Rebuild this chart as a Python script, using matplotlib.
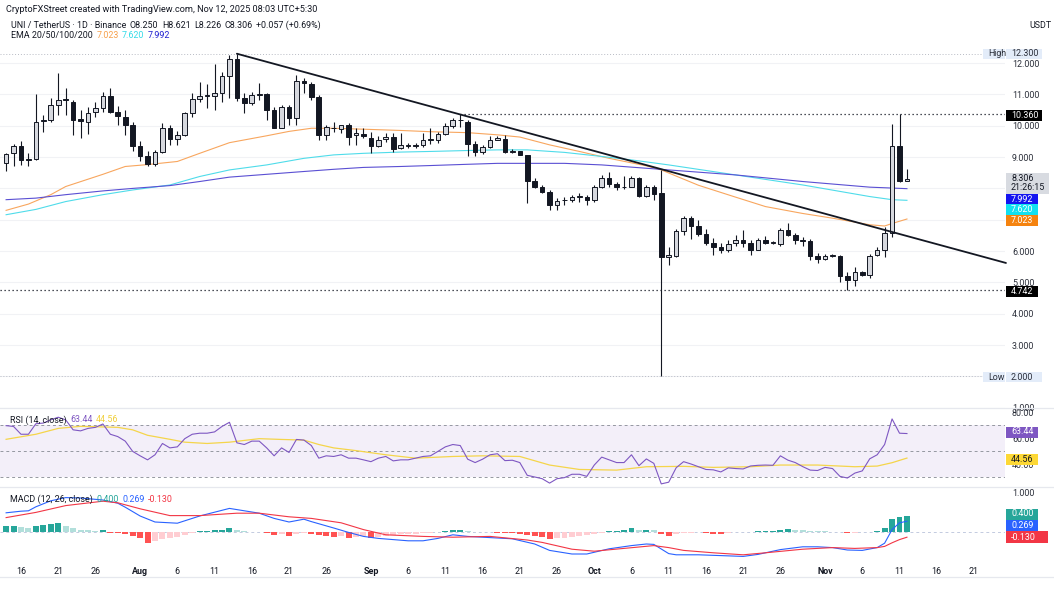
import matplotlib
matplotlib.use('agg')

import matplotlib.pyplot as plt
from matplotlib.patches import Rectangle
from matplotlib.lines import Line2D
import numpy as np
import pandas as pd

plt.rcParams['font.family'] = ['Roboto', 'DejaVu Sans']

# ---- data (daily candles from Jul 14 to Nov 12, 2025) ----
start_date = '2025-07-14'

opens = [8.80, 9.12, 9.34, 8.94, 8.93, 10.14, 10.17, 10.67, 10.84, 10.77,
         10.20, 10.11, 10.43, 10.56, 10.96, 10.45, 10.29, 10.01, 9.34, 9.04,
         8.77, 9.16, 9.94, 9.58, 9.69, 10.42, 10.86, 10.95, 10.94, 11.03,
         11.59, 12.12, 10.88, 10.72, 10.99, 11.01, 10.49, 9.94, 10.59, 10.24,
         11.43, 11.34, 10.91, 9.71, 9.93, 9.89, 10.01, 9.70, 9.74, 9.60,
         9.34, 9.57, 9.65, 9.28, 9.36, 9.37, 9.39, 9.55, 9.53, 9.73,
         10.00, 10.19, 10.11, 9.41, 9.16, 9.32, 9.55, 9.58, 9.17, 9.18,
         9.06, 8.25, 8.06, 7.90, 7.48, 7.63, 7.63, 7.74, 7.74, 7.63,
         8.06, 8.33, 8.14, 8.05, 8.06, 8.33, 7.76, 8.06, 7.85, 5.80,
         5.85, 6.63, 7.05, 6.81, 6.55, 6.27, 6.13, 6.04, 6.25, 6.34,
         6.25, 6.04, 6.34, 6.27, 6.23, 6.66, 6.52, 6.34, 6.31, 5.85,
         5.75, 5.85, 5.85, 5.21, 5.08, 5.32, 5.25, 5.86, 6.04, 6.57,
         9.36, 8.250]
highs = [9.13, 9.42, 9.50, 9.12, 11.01, 10.35, 10.88, 11.68, 11.22, 10.83,
         10.51, 10.61, 10.77, 11.09, 11.20, 10.64, 10.51, 10.13, 9.50, 9.18,
         9.23, 10.08, 10.03, 9.82, 10.45, 11.04, 11.39, 11.33, 11.96, 11.73,
         12.25, 12.30, 11.04, 11.09, 11.38, 11.04, 10.61, 10.67, 10.67, 11.62,
         11.52, 11.39, 10.99, 10.03, 10.11, 10.03, 10.10, 9.92, 9.92, 9.81,
         9.67, 9.76, 9.76, 9.76, 9.44, 9.44, 9.76, 9.92, 9.81, 10.08,
         10.24, 10.36, 10.17, 9.50, 9.39, 9.66, 9.67, 9.70, 9.25, 9.20,
         9.08, 8.33, 8.11, 7.95, 7.69, 7.74, 7.80, 7.85, 7.80, 8.11,
         8.43, 8.51, 8.22, 8.40, 8.40, 8.38, 8.11, 8.11, 8.59, 6.13,
         6.70, 7.12, 7.12, 6.98, 6.70, 6.41, 6.25, 6.36, 6.52, 6.66,
         6.34, 6.41, 6.49, 6.33, 6.73, 6.89, 6.57, 6.44, 6.38, 5.93,
         5.91, 5.91, 5.88, 5.32, 5.49, 5.35, 5.91, 6.13, 6.76, 10.05,
         10.36, 8.621]
lows = [8.54, 8.70, 8.75, 8.70, 8.91, 9.79, 10.11, 10.33, 10.33, 9.71,
        9.62, 9.73, 10.29, 10.45, 10.40, 10.03, 9.71, 9.18, 8.86, 8.73,
        8.73, 9.12, 9.39, 9.39, 9.66, 10.29, 10.75, 10.56, 10.51, 10.77,
        10.88, 10.80, 10.42, 10.67, 10.83, 10.19, 9.92, 9.92, 10.03, 10.03,
        11.04, 10.83, 9.55, 9.55, 9.79, 9.76, 9.39, 9.39, 9.60, 9.12,
        9.31, 9.49, 9.17, 9.25, 9.28, 9.28, 9.33, 9.42, 9.44, 9.70,
        9.92, 9.97, 9.02, 9.02, 9.10, 9.28, 9.53, 9.12, 9.12, 9.06,
        7.53, 8.01, 7.85, 7.31, 7.31, 7.48, 7.57, 7.57, 7.48, 7.57,
        8.01, 8.06, 7.96, 7.98, 8.04, 7.72, 7.72, 7.63, 2.00, 5.56,
        5.81, 6.52, 6.38, 6.49, 6.20, 5.88, 5.93, 5.96, 6.17, 6.13,
        5.88, 6.02, 6.23, 6.24, 6.17, 6.47, 6.23, 6.15, 5.70, 5.61,
        5.72, 5.81, 5.00, 4.75, 4.89, 5.19, 5.14, 5.83, 5.81, 6.45,
        8.20, 8.226]
closes = [9.10, 9.34, 8.91, 8.90, 10.13, 10.17, 10.65, 10.83, 10.82, 10.19,
          10.14, 10.40, 10.56, 10.96, 10.45, 10.32, 10.01, 9.34, 9.04, 8.77,
          9.16, 9.94, 9.58, 9.69, 10.42, 10.85, 10.96, 10.97, 11.03, 11.59,
          12.12, 10.88, 10.72, 10.99, 11.01, 10.51, 9.94, 10.59, 10.24, 11.43,
          11.36, 10.91, 9.71, 9.95, 9.92, 10.01, 9.63, 9.76, 9.66, 9.36,
          9.55, 9.65, 9.26, 9.39, 9.37, 9.36, 9.53, 9.57, 9.73, 10.00,
          10.19, 10.17, 9.41, 9.16, 9.32, 9.55, 9.60, 9.16, 9.18, 9.08,
          8.25, 8.06, 7.90, 7.48, 7.61, 7.64, 7.74, 7.75, 7.63, 8.06,
          8.34, 8.14, 8.04, 8.04, 8.33, 7.76, 8.06, 7.82, 5.81, 5.86,
          6.63, 7.05, 6.81, 6.55, 6.27, 6.13, 6.04, 6.23, 6.36, 6.27,
          6.04, 6.34, 6.27, 6.28, 6.68, 6.52, 6.34, 6.31, 5.85, 5.75,
          5.85, 5.86, 5.21, 5.08, 5.32, 5.25, 5.85, 6.02, 6.57, 9.36,
          8.25, 8.306]

# EMA lines, sampled along the curves (day index, price)
ema50_x = [0, 3, 6, 8, 13, 16, 19, 23, 26, 30, 35, 38, 41, 44, 48, 53, 57,
           62, 66, 69, 73, 77, 81, 86, 88, 93, 98, 102, 107, 111, 116, 118, 119, 121]
ema50 = [7.30, 7.50, 7.80, 8.06, 8.45, 8.70, 8.76, 8.86, 9.12, 9.46, 9.68, 9.82,
         9.92, 9.92, 9.89, 9.85, 9.81, 9.78, 9.71, 9.64, 9.39, 9.18, 8.96, 8.72,
         8.59, 8.10, 7.72, 7.42, 7.20, 7.05, 6.84, 6.80, 6.88, 7.023]
ema100_x = [0, 4, 8, 13, 17, 22, 26, 30, 35, 40, 44, 48, 53, 57, 62, 66, 70,
            75, 80, 84, 89, 98, 107, 116, 119, 121]
ema100 = [7.16, 7.33, 7.58, 7.80, 7.95, 8.11, 8.38, 8.59, 8.75, 8.96, 9.07, 9.12,
          9.16, 9.18, 9.21, 9.23, 9.23, 9.15, 9.02, 8.91, 8.75, 8.43, 8.11, 7.74,
          7.64, 7.62]
ema200_x = [0, 4, 8, 13, 17, 22, 26, 30, 35, 40, 44, 48, 53, 57, 62, 66, 75,
            80, 89, 98, 107, 116, 121]
ema200 = [7.64, 7.69, 7.80, 7.92, 8.00, 8.09, 8.22, 8.36, 8.45, 8.54, 8.61, 8.67,
          8.70, 8.73, 8.77, 8.80, 8.80, 8.75, 8.59, 8.43, 8.22, 8.04, 7.992]

# drawn trendline (day index, price) and horizontal levels
trend_x = [31, 134.3]
trend_y = [12.30, 5.62]
level_high = 12.300
level_low = 2.000
level_res = 10.360
level_res_from = 61
level_sup = 4.742

# RSI(14) and its moving average
rsi = [69.5, 68.9, 62.9, 62.9, 71.0, 71.5, 74.0, 76.0, 74.0, 66.3,
       65.5, 67.4, 68.2, 70.8, 62.9, 61.1, 57.6, 49.7, 46.3, 43.2,
       47.1, 55.8, 52.4, 53.2, 59.5, 62.9, 63.7, 63.7, 64.7, 68.9,
       72.1, 56.3, 55.0, 57.6, 57.6, 52.4, 46.3, 52.4, 48.9, 58.9,
       58.4, 54.2, 44.5, 46.3, 45.8, 47.1, 44.5, 44.5, 43.2, 41.8,
       44.5, 45.8, 42.4, 43.2, 43.2, 44.5, 45.8, 46.3, 49.7, 53.2,
       55.0, 54.2, 43.7, 41.1, 43.7, 47.1, 47.9, 42.6, 42.9, 41.1,
       31.3, 30.0, 28.7, 25.3, 28.7, 29.5, 32.1, 32.1, 30.5, 39.2,
       45.3, 43.2, 41.1, 41.1, 47.1, 38.7, 43.9, 40.5, 24.7, 26.0,
       37.1, 41.8, 40.0, 37.9, 35.8, 35.5, 33.9, 37.0, 36.5, 36.2,
       38.5, 39.0, 39.2, 39.0, 46.3, 43.0, 41.1, 38.0, 35.3, 35.0,
       37.4, 36.5, 30.5, 29.2, 33.0, 34.7, 44.0, 47.1, 55.0, 74.7,
       63.7, 63.44]
rsi_ma_x = [0, 4, 7, 10, 15, 17, 19, 22, 24, 27, 30, 34, 37, 40, 42, 44, 47, 51,
            55, 60, 64, 69, 73, 77, 82, 86, 91, 95, 100, 104, 109, 114, 117, 119, 121]
rsi_ma = [59.0, 62.9, 67.4, 69.0, 68.2, 66.3, 62.1, 59.0, 56.8, 55.8, 56.8, 59.5,
          58.9, 58.4, 55.0, 52.4, 50.3, 47.1, 44.5, 45.8, 46.3, 45.8, 39.2, 35.8,
          35.3, 37.9, 38.2, 37.4, 37.9, 39.2, 39.2, 37.9, 38.4, 41.0, 44.56]

# MACD(12, 26): histogram per day, lines sampled along the curves
macd_hist = [0.15, 0.16, 0.12, 0.10, 0.14, 0.17, 0.19, 0.22, 0.15, 0.10,
             0.06, 0.04, 0.03, 0.04, -0.02, -0.03, -0.06, -0.10, -0.15, -0.27,
             -0.22, -0.18, -0.15, -0.12, -0.07, -0.03, 0.03, 0.035, 0.04, 0.06,
             0.10, 0.05, 0.02, 0.01, 0.005, -0.03, -0.08, -0.05, -0.10, -0.06,
             -0.03, -0.04, -0.08, -0.10, -0.13, -0.10, -0.15, -0.12, -0.09, -0.16,
             -0.12, -0.10, -0.08, -0.06, -0.05, -0.04, -0.03, -0.02, -0.01, 0.02,
             0.04, 0.05, 0.02, 0.01, 0.003, -0.01, -0.02, -0.03, -0.035, -0.04,
             -0.08, -0.10, -0.13, -0.18, -0.16, -0.14, -0.12, -0.10, -0.08, -0.05,
             -0.02, 0.03, 0.032, 0.04, 0.10, 0.05, 0.06, 0.04, -0.06, -0.10,
             -0.06, -0.03, -0.02, -0.01, -0.03, -0.04, -0.045, -0.02, -0.01, 0.005,
             0.01, 0.02, 0.025, 0.03, 0.06, 0.07, 0.06, 0.05, 0.03, 0.02,
             0.015, 0.01, 0.005, -0.03, -0.02, -0.01, -0.005, 0.02, 0.10, 0.32,
             0.37, 0.40]
macd_x = [0, 2, 3, 4, 6, 8, 10, 13, 15, 16, 18, 20, 23, 26, 30, 32, 34, 36, 38,
          40, 41, 44, 46, 48, 50, 54, 56, 58, 60, 62, 65, 68, 71, 73, 76, 78, 81,
          84, 86, 87, 89, 90, 93, 96, 99, 101, 104, 107, 109, 111, 113, 115, 117,
          118, 119, 120, 121]
macd = [0.48, 0.52, 0.53, 0.63, 0.78, 0.86, 0.85, 0.80, 0.72, 0.62, 0.40, 0.25,
        0.22, 0.40, 0.59, 0.53, 0.47, 0.34, 0.25, 0.32, 0.26, 0.10, -0.01, -0.11,
        -0.16, -0.22, -0.22, -0.16, -0.07, -0.11, -0.14, -0.17, -0.30, -0.46,
        -0.55, -0.55, -0.42, -0.34, -0.30, -0.31, -0.54, -0.57, -0.57, -0.59,
        -0.61, -0.56, -0.44, -0.37, -0.37, -0.39, -0.45, -0.46, -0.39, -0.28,
        0.06, 0.23, 0.269]
signal_x = [0, 4, 8, 13, 15, 18, 22, 26, 31, 34, 38, 41, 45, 48, 51, 56, 60, 65,
            70, 72, 76, 79, 83, 87, 89, 91, 95, 99, 102, 107, 111, 114, 117, 118,
            119, 120, 121]
signal = [0.36, 0.49, 0.66, 0.77, 0.73, 0.58, 0.41, 0.41, 0.47, 0.47, 0.38, 0.34,
          0.23, 0.06, -0.07, -0.11, -0.13, -0.11, -0.20, -0.26, -0.43, -0.48,
          -0.41, -0.34, -0.39, -0.46, -0.52, -0.57, -0.52, -0.43, -0.39, -0.41,
          -0.39, -0.36, -0.27, -0.19, -0.130]

tick_dates = ['2025-07-16', '2025-07-21', '2025-07-26', '2025-08-01', '2025-08-06',
              '2025-08-11', '2025-08-16', '2025-08-21', '2025-08-26', '2025-09-01',
              '2025-09-06', '2025-09-11', '2025-09-16', '2025-09-21', '2025-09-26',
              '2025-10-01', '2025-10-06', '2025-10-11', '2025-10-16', '2025-10-21',
              '2025-10-26', '2025-11-01', '2025-11-06', '2025-11-11', '2025-11-16',
              '2025-11-21']
tick_labels = ['16', '21', '26', 'Aug', '6', '11', '16', '21', '26', 'Sep', '6', '11',
               '16', '21', '26', 'Oct', '6', '11', '16', '21', '26', 'Nov', '6', '11',
               '16', '21']
price_ticks = [1, 2, 3, 4, 5, 6, 9, 10, 11, 12]   # 7 and 8 sit under the value tags

# ---- figure ----
W, H = 1054, 589
fig = plt.figure(figsize=(W / 100, H / 100), dpi=100)
fig.patch.set_facecolor('white')
TXT = '#131722'
AXT = '#2a2e39'
FS = 6.4
PLOT_R = 1005


def pane(top, bottom):
    return [0.0, 1 - bottom / H, PLOT_R / W, (bottom - top) / H]


ax = fig.add_axes(pane(18, 408))
ax_rsi = fig.add_axes(pane(408, 487), sharex=ax)
ax_macd = fig.add_axes(pane(487, 561), sharex=ax)

for a in (ax, ax_rsi, ax_macd):
    for s in a.spines.values():
        s.set_visible(False)
    a.yaxis.tick_right()
    a.tick_params(axis='y', length=0, pad=5, labelsize=FS, labelcolor=AXT)
    a.tick_params(axis='x', length=0)
    a.set_facecolor('none')

x = np.arange(len(closes))
o = np.array(opens)
h = np.array(highs)
l = np.array(lows)
c = np.array(closes)
up = c >= o

ax.set_xlim(-0.82, 134.17)
ax.set_ylim(0.99, 13.44)
ax.set_yticks(np.arange(1, 13))
ax.yaxis.set_major_formatter(matplotlib.ticker.FormatStrFormatter('%.3f'))
ax.yaxis.grid(True, color='#f1f2f5', lw=0.8)
ax.set_axisbelow(True)
for t, v in zip(ax.get_yticklabels(), np.arange(1, 13)):
    t.set_visible(v in price_ticks)
plt.setp(ax.get_xticklabels(), visible=False)
plt.setp(ax_rsi.get_xticklabels(), visible=False)

# horizontal levels
ax.axhline(level_high, color='#b8bbc4', lw=0.7, ls=(0, (1, 2)), zorder=1)
ax.axhline(level_low, color='#b8bbc4', lw=0.7, ls=(0, (1, 2)), zorder=1)
ax.hlines(level_res, level_res_from, 134.17, color=TXT, lw=0.9, ls=(0, (1, 2.2)), zorder=1)
ax.axhline(level_sup, color=TXT, lw=0.9, ls=(0, (1, 2.2)), zorder=1)

# EMAs
ax.plot(ema50_x, ema50, color='#f8a65e', lw=0.8, zorder=1.5)
ax.plot(ema100_x, ema100, color='#4fdcea', lw=0.8, zorder=1.5)
ax.plot(ema200_x, ema200, color='#5a4fd3', lw=0.8, zorder=1.5)

# candles
body_lo = np.minimum(o, c)
body_h = np.maximum(np.abs(c - o), 0.012)
ax.vlines(x, l, h, color=TXT, lw=0.8, zorder=2)
ax.bar(x[up], body_h[up], bottom=body_lo[up], width=0.62, color='#d6d8de',
       edgecolor=TXT, linewidth=0.7, zorder=3)
ax.bar(x[~up], body_h[~up], bottom=body_lo[~up], width=0.62, color=TXT,
       edgecolor=TXT, linewidth=0.7, zorder=3)

# trendline
ax.plot(trend_x, trend_y, color=TXT, lw=1.3, solid_capstyle='round', zorder=4, clip_on=False)

# ---- RSI pane ----
ax_rsi.set_ylim(22.3, 83.1)
ax_rsi.axhspan(30, 70, color='#7e57c2', alpha=0.09, lw=0)
for lv in (70, 50, 30):
    ax_rsi.axhline(lv, color='#9598a1', lw=0.7, ls=(0, (3, 3)))
ax_rsi.plot(rsi_ma_x, rsi_ma, color='#f5d54a', lw=0.9)
ax_rsi.plot(x, rsi, color='#7e57c2', lw=0.8)
ax_rsi.set_yticks([80, 60, 40])
ax_rsi.yaxis.set_major_formatter(matplotlib.ticker.FormatStrFormatter('%.2f'))

# ---- MACD pane ----
ax_macd.set_ylim(-0.725, 1.125)
hist = np.array(macd_hist)
cols = []
for i, v in enumerate(hist):
    prev = hist[i - 1] if i > 0 else v
    if v >= 0:
        cols.append('#26a69a' if v >= prev else '#b2dfdb')
    else:
        cols.append('#ff5252' if v < prev else '#ffcdd2')
ax_macd.axhline(0, color='#c3cbe0', lw=0.7, ls=(0, (3, 3)), zorder=0)
ax_macd.bar(x, hist, width=0.8, color=cols, zorder=1)
ax_macd.plot(macd_x, macd, color='#2962ff', lw=0.8, zorder=2)
ax_macd.plot(signal_x, signal, color='#f23645', lw=0.8, zorder=2)
ax_macd.set_yticks([1.0])
ax_macd.yaxis.set_major_formatter(matplotlib.ticker.FormatStrFormatter('%.3f'))

start = pd.Timestamp(start_date)
tick_pos = [(pd.Timestamp(d) - start).days for d in tick_dates]
ax_macd.set_xticks(tick_pos)
ax_macd.set_xticklabels(tick_labels)
ax_macd.tick_params(axis='x', pad=4, labelsize=FS, labelcolor=TXT)
for t in ax_macd.get_xticklabels():
    if t.get_text() in ('Aug', 'Sep', 'Oct', 'Nov'):
        t.set_fontweight('bold')

# pane separators
for yy in (408, 487, 577):
    fig.add_artist(Line2D([0, 1], [1 - yy / H] * 2, transform=fig.transFigure,
                          color='#e6e8ee', lw=0.9))

# ---- texts ----
renderer = fig.canvas.get_renderer()


def line_of(xp, yp, parts, fs=FS, gap=3.5):
    for txt, col in parts:
        t = fig.text(xp / W, 1 - yp / H, txt, color=col, fontsize=fs,
                     ha='left', va='center')
        bb = t.get_window_extent(renderer)
        xp = bb.x1 + gap


def tag(x0, yc, w, hh, txt, bg, fg, fs=FS):
    fig.add_artist(Rectangle((x0 / W, 1 - (yc + hh / 2) / H), w / W, hh / H,
                             transform=fig.transFigure, facecolor=bg,
                             edgecolor='none', zorder=5))
    fig.text((x0 + 5) / W, 1 - yc / H, txt, color=fg, fontsize=fs,
             ha='left', va='center', zorder=6, linespacing=1.05)


line_of(6, 10, [('CryptoFXStreet created with TradingView.com, Nov 12, 2025 08:03 UTC+5:30', TXT)], fs=6.6)
line_of(11, 25, [('UNI / TetherUS · 1D · Binance', TXT), ('O8.250', TXT), ('H8.621', TXT),
                 ('L8.226', TXT), ('C8.306', TXT), ('+0.057 (+0.69%)', TXT)])
line_of(11, 36, [('EMA 20/50/100/200', TXT), ('7.023', '#f7a04b'),
                 ('7.620', '#33dbe8'), ('7.992', '#2020d0')])
line_of(10, 420, [('RSI (14, close)', TXT), ('63.44', '#7e57c2'), ('44.56', '#f0cf3a')])
line_of(10, 499, [('MACD (12, 26, close)', TXT), ('0.400', '#26a69a'),
                  ('0.269', '#2962ff'), ('-0.130', '#f23645')])
fig.text(1040 / W, 1 - 26 / H, 'USDT', color=TXT, fontsize=FS, ha='center', va='center')

# price-scale tags
tag(983, 54, 22, 10, 'High', '#e3ecf9', AXT)
tag(1006, 54, 36, 10, '12.300', '#e3ecf9', AXT)
tag(983, 377, 22, 10, 'Low', '#e3ecf9', AXT)
tag(1006, 377, 36, 10, '2.000', '#e3ecf9', AXT)
tag(1006, 115, 36, 11, '10.360', '#000000', 'white')
tag(1006, 183, 43, 21, '8.306\n21:26:15', '#d8dbe1', TXT)
tag(1006, 199, 32, 10.5, '7.992', '#1414f0', 'white')
tag(1006, 209.5, 32, 10.5, '7.620', '#12e0f0', 'white')
tag(1006, 220.5, 32, 10.5, '7.023', '#f5830f', 'white')
tag(1006, 291, 32, 11, '4.742', '#000000', 'white')
tag(1006, 432, 32, 11, '63.44', '#7e57c2', 'white')
tag(1006, 459, 32, 11, '44.56', '#fdd835', TXT)
tag(1006, 514, 32, 11, '0.400', '#26a69a', 'white')
tag(1006, 525, 32, 11, '0.269', '#2962ff', 'white')
tag(1006, 537, 42, 12, '-0.130', '#f23645', 'white')

fig.savefig('out.png', dpi=100)
